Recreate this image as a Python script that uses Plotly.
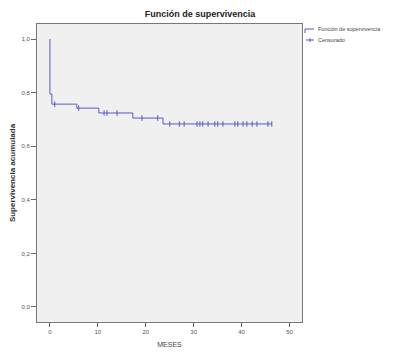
import plotly.graph_objects as go

# Kaplan-Meier step data (months, cumulative survival)
event_times = [0, 0, 0.4, 5.6, 10.2, 17.3, 23.6, 46.3]
survival = [1.0, 0.795, 0.757, 0.742, 0.724, 0.705, 0.683, 0.683]

# Censored observations (months)
censored_times = [1.0, 6.0, 11.3, 11.9, 14.0, 19.2, 22.5, 25.0, 27.0, 28.0, 30.7,
                  31.3, 31.9, 33.0, 34.4, 35.0, 36.1, 38.6, 39.2, 40.3, 41.1,
                  42.2, 43.2, 45.5, 46.3]

x_ticks = [0, 10, 20, 30, 40, 50]
y_ticks = [0.0, 0.2, 0.4, 0.6, 0.8, 1.0]
y_tick_text = ["0,0", "0,2", "0,4", "0,6", "0,8", "1,0"]
legend_labels = ["Función de supervivencia", "Censurado"]


def surv_at(t):
    val = survival[0]
    for et, s in zip(event_times, survival):
        if et <= t:
            val = s
    return val


censored_surv = [surv_at(t) for t in censored_times]

line_color = "#5858c8"

# page body has an 8px margin; work in window pixels then offset
OFF = 8
W, H = 398 - OFF, 354 - OFF
L, R, T, B = 37 - OFF, 302 - OFF, 24 - OFF, 322 - OFF


def px(xw):
    return (xw - OFF - L) / (R - L)


def py(yw):
    return (B - (yw - OFF)) / (B - T)


fig = go.Figure()
fig.add_trace(go.Scatter(
    x=event_times, y=survival, mode="lines", line=dict(color=line_color, width=1, shape="hv"),
    name=legend_labels[0], showlegend=False))
fig.add_trace(go.Scatter(
    x=censored_times, y=censored_surv, mode="markers",
    marker=dict(symbol="line-ns", size=4, line=dict(color=line_color, width=1)),
    name=legend_labels[1], showlegend=False))

# custom legend (outside plot area)
shapes = [
    dict(type="path", xref="paper", yref="paper",
         path=f"M {px(305)} {py(33)} L {px(305)} {py(29)} L {px(314)} {py(29)}",
         line=dict(color=line_color, width=1)),
    dict(type="line", xref="paper", yref="paper", x0=px(306), x1=px(314), y0=py(40), y1=py(40),
         line=dict(color=line_color, width=1)),
    dict(type="line", xref="paper", yref="paper", x0=px(310), x1=px(310), y0=py(38), y1=py(42),
         line=dict(color=line_color, width=1)),
]
annotations = [
    dict(text=legend_labels[0], xref="paper", yref="paper", x=px(316), y=py(29.5),
         xanchor="left", yanchor="middle", showarrow=False, font=dict(size=5.5, color="#444444")),
    dict(text=legend_labels[1], xref="paper", yref="paper", x=px(316), y=py(40),
         xanchor="left", yanchor="middle", showarrow=False, font=dict(size=5.5, color="#444444")),
]

fig.update_layout(
    width=W, height=H,
    margin=dict(l=L, r=W - R, t=T, b=H - B, autoexpand=False),
    paper_bgcolor="white", plot_bgcolor="#f0f0f0",
    font=dict(family="Liberation Sans, Arial", color="#333333"),
    title=dict(text="<b>Función de supervivencia</b>", x=(200 - OFF) / W, xref="container",
               xanchor="center", y=1 - (14 - OFF) / H, yanchor="middle",
               font=dict(size=9, color="#222222")),
    showlegend=False,
    shapes=shapes, annotations=annotations,
)
fig.update_xaxes(
    range=[-2.7, 52.6], tickvals=x_ticks, ticks="outside", ticklen=4, tickcolor="#666666",
    tickfont=dict(size=6, color="#555555"), showgrid=False, zeroline=False,
    showline=True, linecolor="#777777", linewidth=1, mirror=True,
    title=dict(text="MESES", font=dict(size=7, color="#444444"), standoff=7))
fig.update_yaxes(
    range=[-0.056, 1.056], tickvals=y_ticks, ticktext=y_tick_text, ticks="outside", ticklen=5,
    tickcolor="#666666", tickfont=dict(size=6, color="#555555"), showgrid=False, zeroline=False,
    showline=True, linecolor="#777777", linewidth=1, mirror=True,
    title=dict(text="<b>Supervivencia acumulada</b>", font=dict(size=8, color="#333333"), standoff=5))

fig.write_html("out.html")
